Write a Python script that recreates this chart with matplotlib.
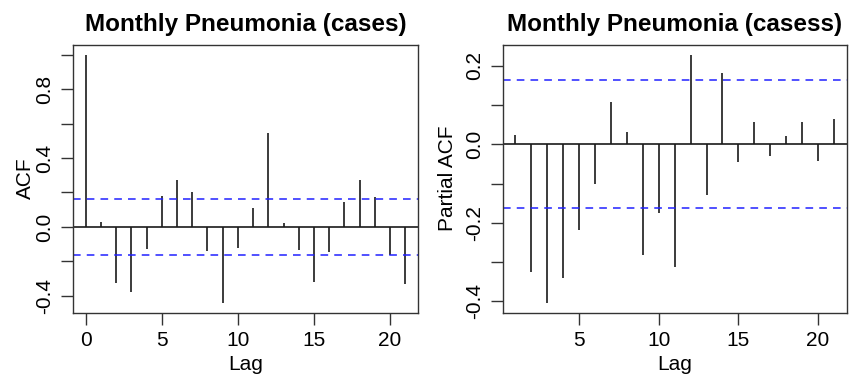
import matplotlib
matplotlib.use("Agg")
import matplotlib.pyplot as plt

plt.rcParams['font.family'] = ['Liberation Sans', 'DejaVu Sans']

# ACF values, lags 0..21
acf_lags = list(range(0, 22))
acf_vals = [1.0, 0.027, -0.325, -0.38, -0.13, 0.18, 0.27, 0.20, -0.14, -0.44,
            -0.12, 0.11, 0.545, 0.02, -0.133, -0.317, -0.147, 0.147, 0.27,
            0.176, -0.164, -0.33]

# PACF values, lags 1..21
pacf_lags = list(range(1, 22))
pacf_vals = [0.025, -0.325, -0.404, -0.341, -0.218, -0.101, 0.109, 0.031,
             -0.283, -0.175, -0.314, 0.229, -0.13, 0.183, -0.045, 0.057,
             -0.03, 0.022, 0.056, -0.042, 0.064]

ci = 0.163

titles = ['Monthly Pneumonia (cases)', 'Monthly Pneumonia (casess)']


def r_range(lo, hi):
    # R style 4% axis extension
    d = (hi - lo) * 0.04
    return lo - d, hi + d


def draw(ax, lags, vals, ylab, title, yticks, ylabels, xticks, ylpad):
    ax.vlines(lags, 0, vals, colors='#1a1a1a', linewidth=1.2)
    ax.axhline(0, color='#1a1a1a', linewidth=1.2)
    ax.axhline(ci, color='#2020ff', linestyle=(0, (5, 4)), linewidth=1.1)
    ax.axhline(-ci, color='#2020ff', linestyle=(0, (5, 4)), linewidth=1.1)

    ax.set_xlim(*r_range(min(lags), max(lags)))
    ax.set_ylim(*r_range(min(min(vals), -ci), max(max(vals), ci)))

    ax.set_xticks(xticks)
    ax.set_yticks(yticks)
    ax.set_yticklabels(ylabels, rotation=90, va='center')
    ax.tick_params(direction='out', length=8.5, width=1, color='#333333',
                   labelsize=15, pad=5)

    for s in ax.spines.values():
        s.set_color('#333333')
        s.set_linewidth(1.0)

    ax.set_xlabel('Lag', fontsize=15, labelpad=3.5)
    ax.set_ylabel(ylab, fontsize=15, labelpad=ylpad)
    ax.set_title(title, fontsize=17.5, fontweight='bold', pad=10)


fig = plt.figure(figsize=(8.57, 3.77), dpi=100)
ax1 = fig.add_axes([0.0852, 0.1706, 0.4026, 0.711])
ax2 = fig.add_axes([0.5866, 0.1706, 0.4014, 0.711])

draw(ax1, acf_lags, acf_vals, 'ACF', titles[0],
     [-0.4, -0.2, 0.0, 0.2, 0.4, 0.6, 0.8, 1.0],
     ['-0.4', '', '0.0', '', '0.4', '', '0.8', ''],
     [0, 5, 10, 15, 20], 0)
draw(ax2, pacf_lags, pacf_vals, 'Partial ACF', titles[1],
     [-0.4, -0.3, -0.2, -0.1, 0.0, 0.1, 0.2],
     ['-0.4', '', '-0.2', '', '0.0', '', '0.2'],
     [5, 10, 15, 20], 6)

fig.savefig('out.png', dpi=100)
